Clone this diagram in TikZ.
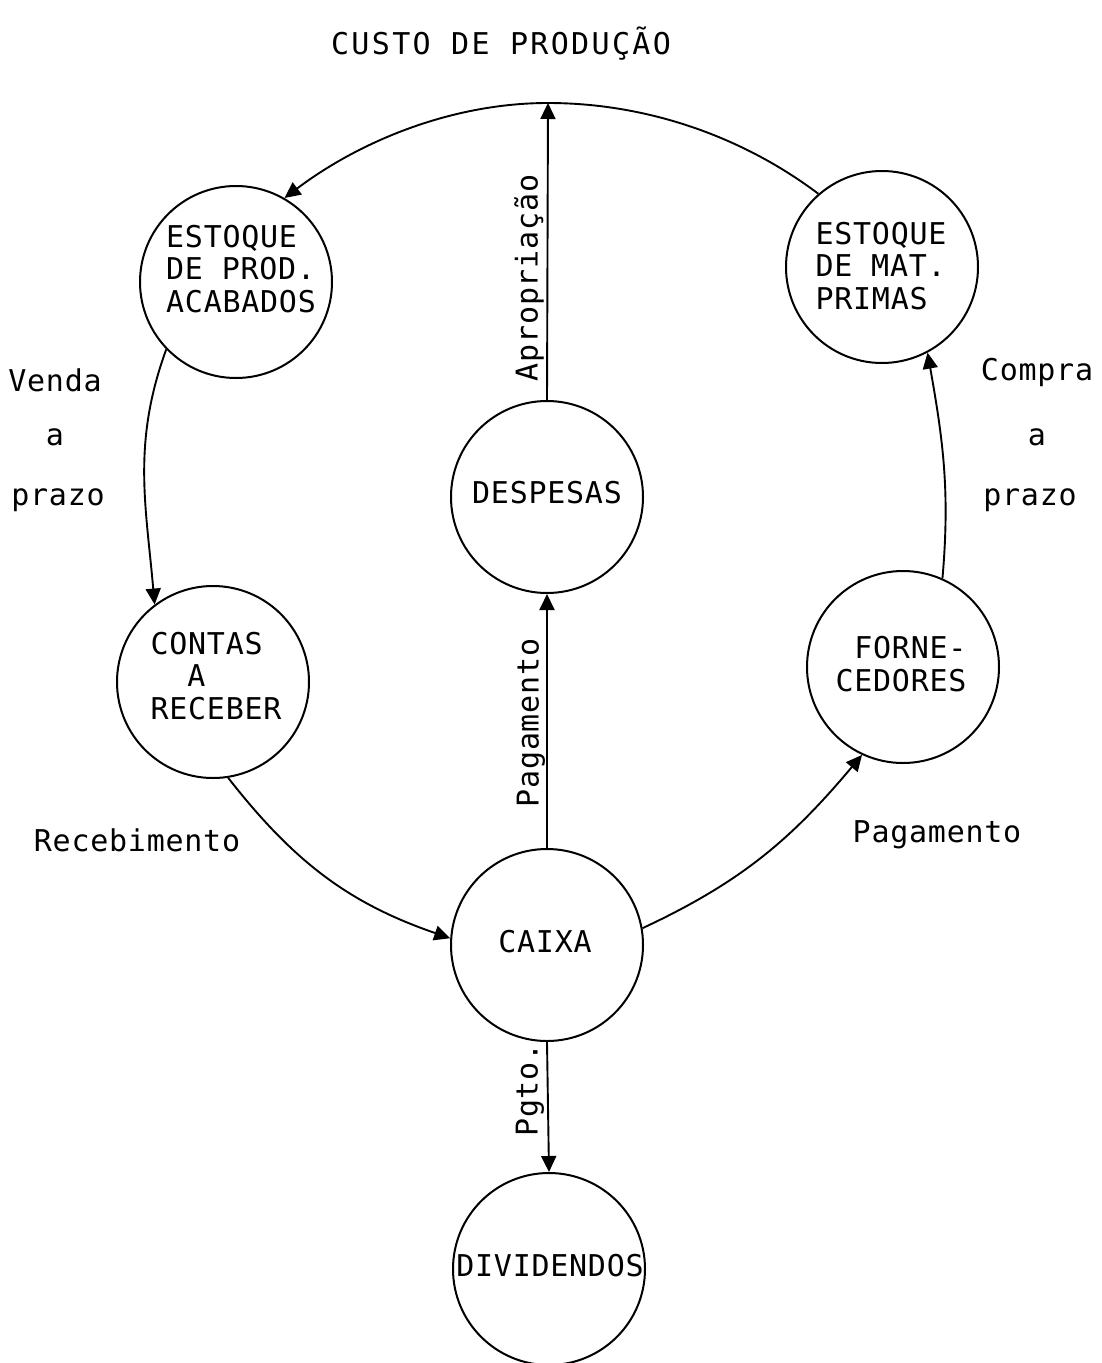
\documentclass[tikz,border=0pt]{standalone}
\usepackage{fontspec}
\newfontfamily\tw[LetterSpace=2.5]{DejaVu Sans Mono}
\newfontfamily\twt[LetterSpace=7.8]{DejaVu Sans Mono}
\usetikzlibrary{arrows.meta}
\begin{document}
\begin{tikzpicture}[x=1pt,y=1pt,
  circ/.style={draw, circle, minimum size=192pt, inner sep=0pt, line width=2pt},
  txt/.style={font=\tw\fontsize{30}{32.5}\selectfont, inner sep=0pt, align=left},
  ttl/.style={font=\twt\fontsize{30}{33}\selectfont, inner sep=0pt},
  conn/.style={line width=1.9pt},
  flow/.style={line width=1.9pt, -{Triangle[length=16pt,width=15pt]}},
]
\useasboundingbox (0,0) rectangle (1102,-1363);
% circles
\node[circ] (ep) at (236,-282) {};
\node[circ] (em) at (882,-267) {};
\node[circ] (de) at (547,-497) {};
\node[circ] (cr) at (213,-682) {};
\node[circ] (fo) at (903,-667) {};
\node[circ] (cx) at (547,-945) {};
\node[circ] (dv) at (549,-1269) {};
% texts in circles
\node[txt] (tep) at (241,-269) {ESTOQUE\\DE PROD.\\ACABADOS};
\node[txt] (tem) at (881,-266) {ESTOQUE\\DE MAT.\\PRIMAS};
\node[txt] (tde) at (547,-493) {DESPESAS};
\node[txt] (tcr) at (216,-676) {CONTAS\\\phantom{CO}A\\RECEBER};
\node[txt, align=right] (tfo) at (901,-664) {FORNE-\\CEDORES};
\node[txt] (tcx) at (545,-942) {CAIXA};
\node[txt] (tdv) at (550,-1266) {DIVIDENDOS};
% labels
\node[ttl] (title) at (501,-44) {CUSTO DE PRODUÇÃO};
\node[txt] (v1) at (55,-380) {Venda};
\node[txt] (v2) at (55,-437) {a};
\node[txt] (v3) at (58,-500) {prazo};
\node[txt] (c1) at (1037,-372) {Compra};
\node[txt] (c2) at (1037,-437) {a};
\node[txt] (c3) at (1030,-500) {prazo};
\node[txt] (rec) at (137,-840) {Recebimento};
\node[txt] (pag2) at (937,-835) {Pagamento};
\node[txt, rotate=90] (apr) at (529,-278) {Apropriação};
\node[txt, rotate=90] (pag1) at (531,-723) {Pagamento};
\node[txt, rotate=90] (pgto) at (530,-1090) {Pgto.};
% connectors
\coordinate (top) at (548,-103);
\draw[conn] (em.131) to[out=143,in=0,looseness=0.87] (top);
\draw[flow] (top) to[out=180,in=37,looseness=0.87] (ep.60);
\draw[flow] (de.north) -- (top);
\draw[flow] (ep.224) to[out=250,in=95] (cr.127);
\draw[flow] (cr.279) to[out=-52,in=161] (cx.176);
\draw[flow] (cx.10) to[out=25,in=230] (fo.245);
\draw[flow] (fo.66) to[out=85,in=280] (em.298);
\draw[flow] (cx.north) -- (de.south);
\draw[flow] (cx.south) -- (dv.north);
\end{tikzpicture}
\end{document}
